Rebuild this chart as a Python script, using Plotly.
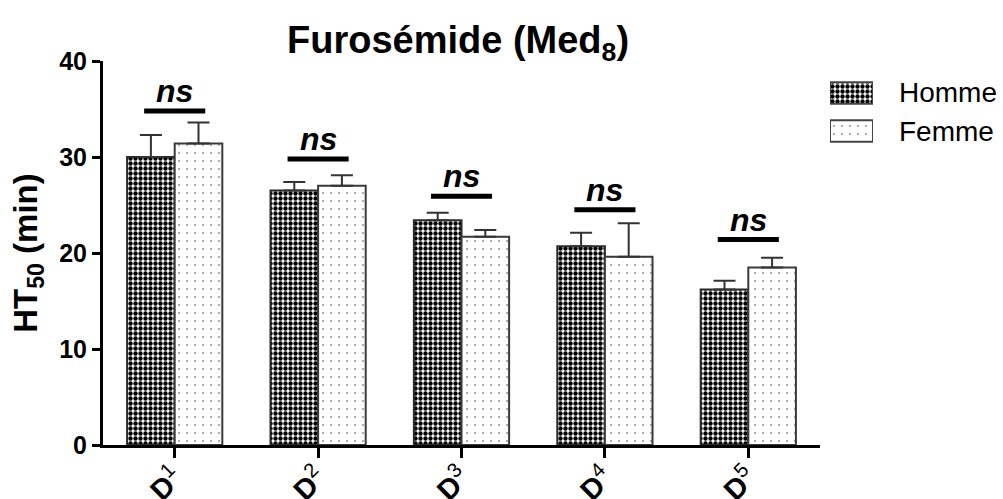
import plotly.graph_objects as go

# Doses and group means / SEM of HT50 (min)
doses = ["D1", "D2", "D3", "D4", "D5"]
dose_labels = ["<b>D</b><sup>1</sup>", "<b>D</b><sup>2</sup>", "<b>D</b><sup>3</sup>",
               "<b>D</b><sup>4</sup>", "<b>D</b><sup>5</sup>"]
homme_mean = [30.0, 26.5, 23.4, 20.7, 16.2]
homme_sem = [2.3, 0.9, 0.8, 1.4, 0.9]
femme_mean = [31.4, 27.0, 21.7, 19.6, 18.5]
femme_sem = [2.2, 1.1, 0.7, 3.5, 1.0]
# Height of the "ns" comparison bar above each dose group
ns_level = [34.8, 29.8, 25.9, 24.5, 21.4]
y_ticks = [0, 10, 20, 30, 40]
groups = ["Homme", "Femme"]

FONT = "Liberation Sans, Arial, sans-serif"
x_pos = list(range(len(doses)))

W, H = 1003, 499
ML, MR, MT, MB = 103, 3, 61, 54
plot_w = W - ML - MR
plot_h = H - MT - MB
main_right = 820  # right end of the x axis line (px)


def px_x(p):
    return (p - ML) / plot_w


def px_y(p):
    return (H - MB - p) / plot_h


fig = go.Figure()

err_style = dict(type="data", symmetric=False, color="#333333", thickness=2, width=11)

checker = dict(shape=".", fgcolor="black", bgcolor="white", size=5, solidity=0.6, fillmode="replace")
dots = dict(shape=".", fgcolor="#9a9a9a", bgcolor="white", size=8, solidity=0.06, fillmode="replace")

fig.add_trace(go.Bar(
    x=x_pos, y=homme_mean, name=groups[0],
    marker=dict(color="white", line=dict(color="#2a2a2a", width=2), pattern=checker),
    error_y=dict(array=homme_sem, arrayminus=[0] * len(doses), **err_style),
    showlegend=False,
))
fig.add_trace(go.Bar(
    x=x_pos, y=femme_mean, name=groups[1],
    marker=dict(color="white", line=dict(color="#3a3a3a", width=2), pattern=dots),
    error_y=dict(array=femme_sem, arrayminus=[0] * len(doses), **err_style),
    showlegend=False,
))

# Legend keys drawn as small patterned bars on their own axes
fig.add_trace(go.Bar(
    x=[1, 1], y=[groups[1], groups[0]], orientation="h", width=0.56,
    xaxis="x2", yaxis="y2", showlegend=False, hoverinfo="skip",
    marker=dict(color="white", line=dict(color="#444444", width=2),
                pattern=dict(shape=[".", "."], fgcolor=[dots["fgcolor"], checker["fgcolor"]],
                             bgcolor="white", size=[dots["size"], checker["size"]],
                             solidity=[dots["solidity"], checker["solidity"]], fillmode="replace")),
))

shapes = []
annotations = []
for i, lvl in enumerate(ns_level):
    shapes.append(dict(type="line", xref="x", yref="y", x0=x_pos[i] - 0.213, x1=x_pos[i] + 0.213,
                       y0=lvl, y1=lvl, line=dict(color="black", width=5)))
    annotations.append(dict(x=x_pos[i], y=lvl, xref="x", yref="y", text="<b><i>ns</i></b>",
                            showarrow=False, yanchor="bottom", yshift=0,
                            font=dict(family=FONT, size=32, color="black")))

for g in groups:
    annotations.append(dict(x=1, y=g, xref="x2", yref="y2", text=g, showarrow=False,
                            xanchor="left", xshift=24,
                            font=dict(family=FONT, size=28, color="black")))

fig.update_layout(
    width=W, height=H,
    margin=dict(l=ML, r=MR, t=MT, b=MB, autoexpand=False),
    paper_bgcolor="white", plot_bgcolor="white",
    barmode="group", bargap=0.336, bargroupgap=0,
    title=dict(text="<b>Furosémide (Med<sub>8</sub>)</b>", x=px_x(458), xref="paper",
               xanchor="center", y=1 - 40 / H, yanchor="middle",
               font=dict(family=FONT, size=38, color="black")),
    xaxis=dict(domain=[0, px_x(main_right)], range=[-0.5, 4.5], tickvals=x_pos, ticktext=dose_labels,
               tickangle=-45, showline=True, linecolor="black", linewidth=3,
               ticks="outside", ticklen=10, tickwidth=3, tickcolor="black",
               showgrid=False, zeroline=False, automargin=False, ticklabelstandoff=-9,
               tickfont=dict(family=FONT, size=29, color="black")),
    yaxis=dict(range=[0, 40], tickvals=y_ticks, showline=True, linecolor="black", linewidth=3,
               ticks="outside", ticklen=8, tickwidth=3, tickcolor="black",
               showgrid=False, zeroline=False, automargin=False,
               tickfont=dict(family=FONT, size=25, color="black", weight="bold"),
               title=dict(text="<b>HT<sub>50</sub> (min)</b>", standoff=12,
                          font=dict(family=FONT, size=33, color="black"))),
    xaxis2=dict(domain=[px_x(830), px_x(873)], range=[0, 1], visible=False, anchor="y2", fixedrange=True),
    yaxis2=dict(domain=[px_y(150), px_y(74)], visible=False, anchor="x2",
                categoryorder="array", categoryarray=[groups[1], groups[0]], fixedrange=True),
    shapes=shapes,
    annotations=annotations,
)

fig.write_html("out.html")
